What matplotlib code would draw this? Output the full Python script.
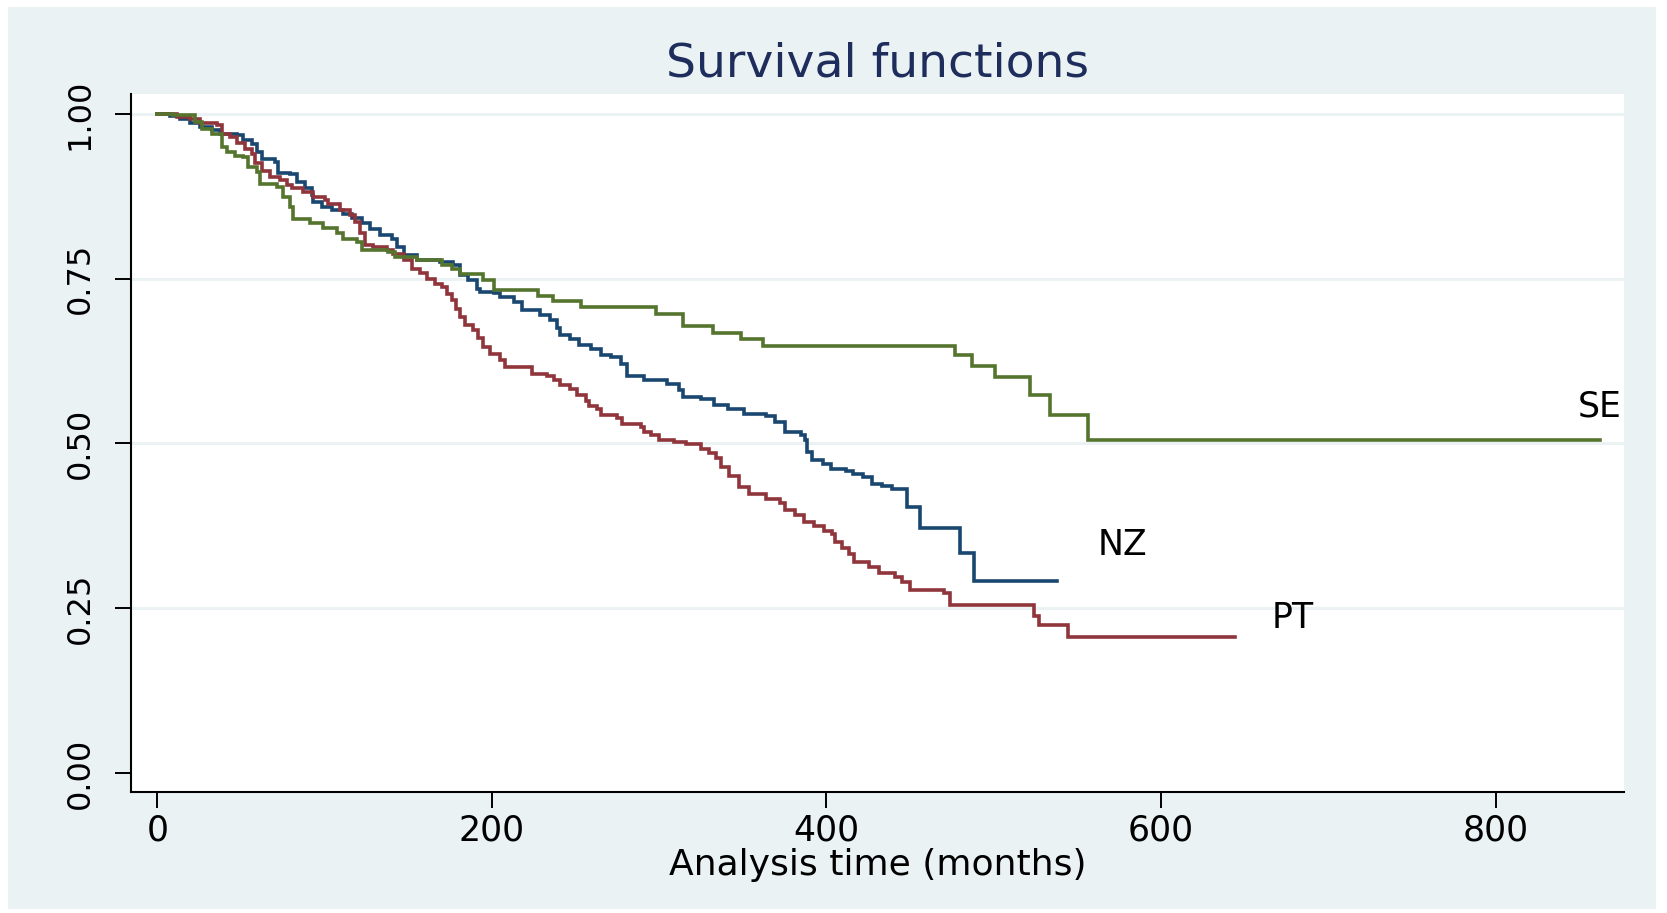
import matplotlib
matplotlib.use("Agg")
import matplotlib.pyplot as plt
from matplotlib.patches import Rectangle

# ---------------- data ----------------
nz_t = [0, 7.6, 13.6, 19.5, 25.5, 32.5, 37.5, 47.5, 51.5, 56.4, 59.4, 62.4, 70.4, 72.4, 79.4,
        83.4, 88.3, 92.3, 93.3, 98.3, 104.3, 111.3, 116.3, 122.3, 127.2, 133.2, 140.2, 143.2,
        147.2, 155.1, 169.1, 177, 181, 186, 191, 193, 201, 205, 213, 218, 229, 235, 239, 241,
        247, 252, 259, 265, 271, 277, 281, 291, 305, 312, 314, 325, 333, 341, 351, 364, 369,
        375, 385, 387, 388.5, 391.5, 398, 403, 412, 416, 422, 427, 433, 439, 448, 456, 480,
        488, 538]
nz_s = [1.0, 0.997, 0.992, 0.986, 0.981, 0.976, 0.970, 0.968, 0.961, 0.955, 0.942, 0.931, 0.927,
        0.910, 0.909, 0.897, 0.888, 0.877, 0.867, 0.859, 0.854, 0.849, 0.842, 0.834, 0.826,
        0.816, 0.811, 0.798, 0.786, 0.778, 0.776, 0.771, 0.756, 0.748, 0.735, 0.730, 0.729,
        0.723, 0.715, 0.703, 0.695, 0.687, 0.675, 0.664, 0.659, 0.649, 0.644, 0.634, 0.631,
        0.621, 0.603, 0.596, 0.590, 0.581, 0.570, 0.567, 0.559, 0.552, 0.545, 0.542, 0.532,
        0.517, 0.513, 0.505, 0.487, 0.475, 0.469, 0.462, 0.458, 0.454, 0.449, 0.439, 0.435,
        0.431, 0.403, 0.371, 0.334, 0.292, 0.292]

pt_t = [0, 11.6, 19.5, 25.5, 35.5, 38.5, 43.5, 47.5, 52.5, 56.4, 58.4, 62.4, 67.4, 73.4, 77.4,
        80.4, 87.3, 93.3, 100.3, 102.3, 109.3, 115.3, 118.3, 121.3, 124.3, 129.2, 137.2, 141.2,
        147.2, 152.1, 157.1, 161.1, 166.1, 170, 173, 176, 178.5, 181, 184, 189, 192, 195, 199,
        205, 208, 224, 233, 237, 241, 247, 251, 256, 258, 263, 265, 275, 278, 289, 291, 295,
        300, 309, 316, 325, 330, 334, 337, 341.5, 348, 354, 364, 372.4, 375.4, 381.4, 386.4,
        392.4, 398.3, 403.3, 405.3, 409.3, 413.3, 416.3, 425.3, 431.2, 441.2, 445.2, 450.2,
        470.1, 474.1, 524.3, 526.9, 544.2, 644.5]
pt_s = [1.0, 0.996, 0.993, 0.986, 0.983, 0.970, 0.965, 0.956, 0.947, 0.940, 0.925, 0.913, 0.905,
        0.900, 0.892, 0.887, 0.882, 0.874, 0.870, 0.864, 0.854, 0.846, 0.836, 0.819, 0.801,
        0.798, 0.793, 0.788, 0.778, 0.765, 0.758, 0.750, 0.742, 0.737, 0.727, 0.717, 0.704,
        0.692, 0.680, 0.672, 0.660, 0.646, 0.636, 0.626, 0.616, 0.606, 0.603, 0.596, 0.588,
        0.583, 0.573, 0.565, 0.557, 0.552, 0.543, 0.539, 0.530, 0.525, 0.518, 0.513, 0.505,
        0.502, 0.499, 0.492, 0.486, 0.478, 0.465, 0.450, 0.434, 0.424, 0.416, 0.409, 0.399,
        0.391, 0.381, 0.374, 0.367, 0.363, 0.351, 0.341, 0.333, 0.320, 0.313, 0.303, 0.298,
        0.290, 0.278, 0.273, 0.255, 0.238, 0.225, 0.206, 0.206]

se_t = [0, 9.6, 22.5, 26.5, 32.5, 38.5, 41.5, 46.5, 51.5, 54.5, 59.4, 61.4, 71.4, 75.4, 79.4,
        81.4, 91.3, 99.3, 107.3, 111.3, 119.3, 122.3, 138.2, 142.2, 155.1, 170, 176, 181, 195,
        201, 227.3, 236.3, 253.3, 298, 314, 332, 349, 362, 477, 487, 500.6, 521.5, 533.9,
        556.2, 862.6]
se_s = [1.0, 0.998, 0.988, 0.978, 0.970, 0.950, 0.943, 0.937, 0.935, 0.920, 0.912, 0.894, 0.889,
        0.874, 0.859, 0.840, 0.834, 0.827, 0.819, 0.811, 0.806, 0.793, 0.791, 0.783, 0.778,
        0.771, 0.765, 0.757, 0.748, 0.733, 0.724, 0.716, 0.707, 0.697, 0.678, 0.668, 0.658,
        0.648, 0.634, 0.618, 0.601, 0.573, 0.543, 0.506, 0.506]

groups = ["NZ", "PT", "SE"]
group_colors = ["#1a476f", "#90353b", "#55752f"]
label_x = [577, 679, 862]
label_y = [0.346, 0.235, 0.556]

x_ticks = [0, 200, 400, 600, 800]
y_ticks = [0.00, 0.25, 0.50, 0.75, 1.00]
y_ticklabels = ["0.00", "0.25", "0.50", "0.75", "1.00"]

title = "Survival functions"
x_label = "Analysis time (months)"

# ---------------- figure ----------------
BG = "#eaf2f3"
fig = plt.figure(figsize=(16.67, 9.13), dpi=100, facecolor="white")
fig.patches.append(Rectangle((8 / 1667, 1 - 909 / 913), (1656 - 8) / 1667, (909 - 7) / 913,
                             transform=fig.transFigure, facecolor=BG, edgecolor="none",
                             zorder=-10))

ax = fig.add_axes([0.0785, 0.1325, 0.974 - 0.0785, 0.8975 - 0.1325])
ax.set_facecolor("white")

series = [(nz_t, nz_s), (pt_t, pt_s), (se_t, se_s)]
for (t, s), c in zip(series, group_colors):
    ax.step(t, s, where="post", color=c, lw=2.6, solid_joinstyle="miter", zorder=3)

for name, lx, ly in zip(groups, label_x, label_y):
    ax.text(lx, ly, name, ha="center", va="center", fontsize=25, color="black", zorder=4)

ax.set_xlim(-15.8, 876.6)
ax.set_ylim(-0.029, 1.031)
ax.set_xticks(x_ticks)
ax.set_xticklabels([str(v) for v in x_ticks])
ax.set_yticks(y_ticks)
ax.set_yticklabels(y_ticklabels, rotation=90, va="center")

ax.grid(axis="y", color=BG, lw=2.2, zorder=0)
ax.yaxis.get_gridlines()[0].set_visible(False)
ax.set_axisbelow(True)

for sp in ["top", "right"]:
    ax.spines[sp].set_visible(False)
for sp in ["left", "bottom"]:
    ax.spines[sp].set_linewidth(1.5)
    ax.spines[sp].set_color("black")

ax.tick_params(axis="x", direction="out", length=11.5, width=1.4, labelsize=25, pad=4)
ax.tick_params(axis="y", direction="out", length=11.5, width=1.4, labelsize=23, pad=14)

ax.set_xlabel(x_label, fontsize=26, labelpad=0)
fig.text(0.5265, 1 - 64 / 913, title, ha="center", va="center", fontsize=34, color="#1e2d5c")

fig.savefig("out.png", dpi=100, facecolor=fig.get_facecolor())
